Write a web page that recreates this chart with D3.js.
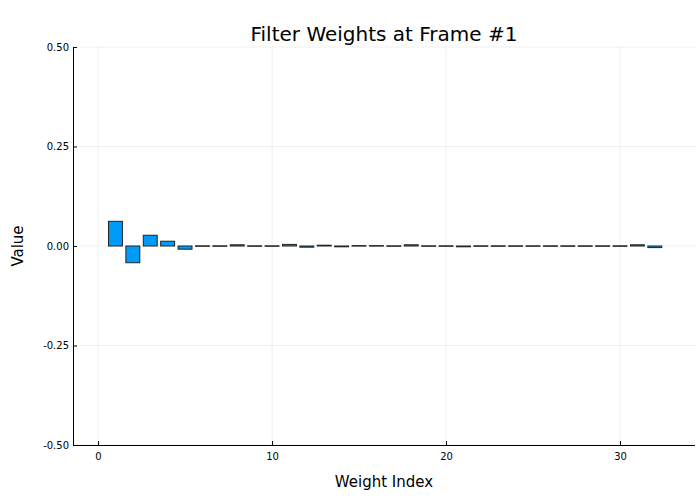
<!DOCTYPE html>
<html><head><meta charset="utf-8">
<script src="https://cdn.jsdelivr.net/npm/d3@7"></script>
<style>body{margin:0;background:#fff}svg{font-family:"DejaVu Sans",sans-serif}</style>
</head><body><svg id="c" width="700" height="500"></svg>
<script>
const indices = d3.range(1, 33);
const values = [0.062, -0.042, 0.027, 0.012, -0.008, 0.0005, 0.0005, 0.003, 0.0005, 0.0005,
  0.004, -0.003, 0.002, -0.002, 0.001, 0.001, 0.0005, 0.003, 0.0005, 0.0005,
  -0.002, 0.0005, 0.0005, 0.0005, 0.0005, 0.0005, 0.0005, 0.0005, 0.0005, 0.0005,
  0.003, -0.004];
const xTicks = [0, 10, 20, 30];
const yTicks = [-0.5, -0.25, 0, 0.25, 0.5];
const yTickLabels = ["-0.50", "-0.25", "0.00", "0.25", "0.50"];

const svg = d3.select("#c");
const L = 73, R = 695, T = 47, B = 445;
const x = d3.scaleLinear().domain([-1.44, 34.31]).range([L, R]);
const y = d3.scaleLinear().domain([-0.5, 0.5]).range([B, T]);

// grid
svg.append("g").selectAll("line").data(xTicks).join("line")
  .attr("x1", d => x(d)).attr("x2", d => x(d)).attr("y1", T).attr("y2", B)
  .attr("stroke", "#000").attr("stroke-opacity", 0.06).attr("stroke-width", 1);
svg.append("g").selectAll("line").data(yTicks).join("line")
  .attr("x1", L).attr("x2", R).attr("y1", d => y(d)).attr("y2", d => y(d))
  .attr("stroke", "#000").attr("stroke-opacity", 0.06).attr("stroke-width", 1);

// bars
const bw = 0.8;
svg.append("g").selectAll("rect").data(indices).join("rect")
  .attr("x", (d) => x(d - bw / 2))
  .attr("width", x(bw) - x(0))
  .attr("y", (d, i) => y(Math.max(0, values[i])))
  .attr("height", (d, i) => Math.max(0.5, Math.abs(y(values[i]) - y(0))))
  .attr("fill", "#009af9").attr("stroke", "#222").attr("stroke-width", 1);

// axes
const xa = svg.append("g").attr("transform", `translate(0,${B})`)
  .call(d3.axisBottom(x).tickValues(xTicks).tickSize(-4).tickPadding(8).tickFormat(d3.format("d")));
const ya = svg.append("g").attr("transform", `translate(${L},0)`)
  .call(d3.axisLeft(y).tickValues(yTicks).tickSize(-4).tickPadding(4).tickFormat((d, i) => yTickLabels[i]));
[xa, ya].forEach(g => {
  g.select(".domain").attr("stroke", "#000").attr("stroke-width", 1);
  g.selectAll(".tick line").attr("stroke", "#000");
  g.selectAll("text").attr("font-size", 10).attr("fill", "#000").attr("font-family", "DejaVu Sans");
});
xa.select(".domain").attr("d", `M${L},0.5H${R}`);
ya.select(".domain").attr("d", `M0.5,${T}V${B}`);

svg.append("text").attr("x", (L + R) / 2).attr("y", 41).attr("text-anchor", "middle")
  .attr("font-size", 20).text("Filter Weights at Frame #1");
svg.append("text").attr("x", (L + R) / 2).attr("y", 487).attr("text-anchor", "middle")
  .attr("font-size", 15).text("Weight Index");
svg.append("text").attr("transform", `translate(23,${(T + B) / 2}) rotate(-90)`).attr("text-anchor", "middle")
  .attr("font-size", 15).text("Value");
</script></body></html>
